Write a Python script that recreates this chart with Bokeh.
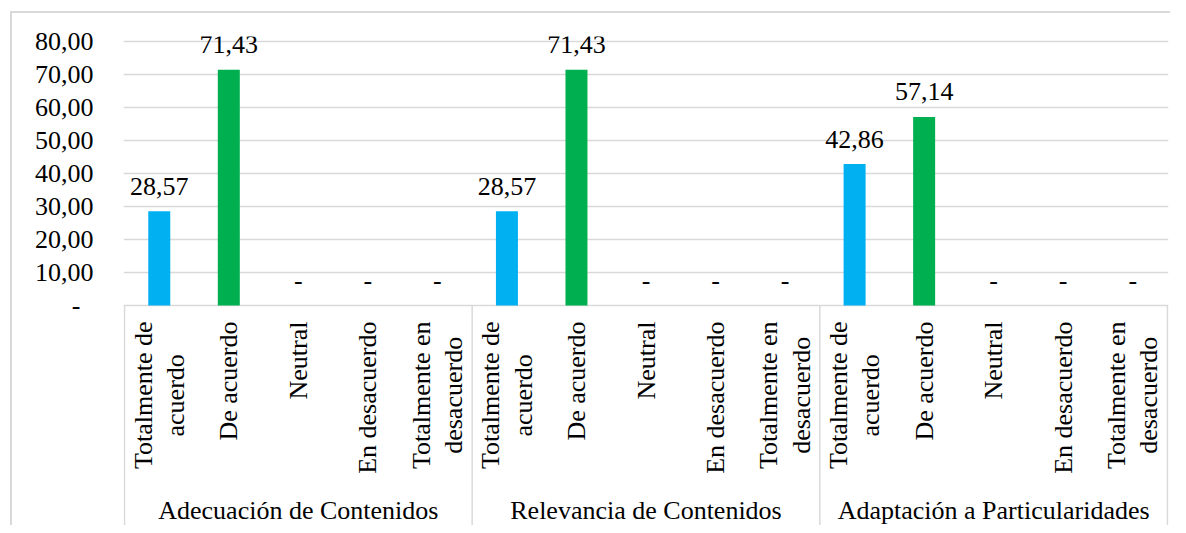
import math
from bokeh.plotting import figure
from bokeh.models import ColumnDataSource, Range1d, FixedTicker
from bokeh.core.properties import value
from bokeh.embed import file_html
from bokeh.resources import INLINE

# ---------------- data ----------------
GROUPS = ["Adecuación de Contenidos", "Relevancia de Contenidos", "Adaptación a Particularidades"]
CATEGORIES = ["Totalmente de acuerdo", "De acuerdo", "Neutral", "En desacuerdo", "Totalmente en desacuerdo"]
CATEGORY_LABELS = ["Totalmente de\nacuerdo", "De acuerdo", "Neutral", "En desacuerdo", "Totalmente en\ndesacuerdo"]
ADECUACION = [28.57, 71.43, 0.0, 0.0, 0.0]
RELEVANCIA = [28.57, 71.43, 0.0, 0.0, 0.0]
ADAPTACION = [42.86, 57.14, 0.0, 0.0, 0.0]
SERIES = [ADECUACION, RELEVANCIA, ADAPTACION]
CAT_COLORS = ["#00B0F0", "#00B050", "#A5A5A5", "#FFC000", "#4472C4"]
Y_TICKS = [0, 10, 20, 30, 40, 50, 60, 70, 80]
Y_TICK_LABELS = ["-\u00a0\u00a0", "10,00", "20,00", "30,00", "40,00", "50,00", "60,00", "70,00", "80,00"]

# ---------------- style / geometry ----------------
FONT = "Liberation Serif"
FS = "26px"
GRID = "#D9D9D9"
W, H = 1170, 525
MB_LEFT, MB_RIGHT, MB_TOP, MB_BOTTOM = 123, 2, 36, 0
FRAME_W = W - MB_LEFT - MB_RIGHT
FRAME_H = H - MB_TOP - MB_BOTTOM
PX = 264 / 80.0                 # pixels per value unit
AXIS_Y = 305                    # canvas y of value 0
AXIS_FROM_TOP = AXIS_Y - MB_TOP
Y_END = 80 + (AXIS_FROM_TOP - 80 * PX) / PX
Y_START = -(FRAME_H - AXIS_FROM_TOP) / PX
N = len(GROUPS) * len(CATEGORIES)
CAT_PX = (FRAME_W - 2) / N
X_PAD = 1 / CAT_PX

# ---------------- build columns ----------------
xs, tops, colors, labels = [], [], [], []
for g, vals in enumerate(SERIES):
    for c, v in enumerate(vals):
        xs.append(g * len(CATEGORIES) + c + 0.5)
        tops.append(v)
        colors.append(CAT_COLORS[c])
        labels.append(("%.2f" % v).replace(".", ",") if v else "-")

bars = ColumnDataSource(dict(x=xs, top=tops, color=colors, label=labels,
                             label_y=[t + 25 / PX for t in tops]))

cat_src = ColumnDataSource(dict(
    x=xs,
    y=[-16 / PX] * N,
    text=[CATEGORY_LABELS[i % len(CATEGORIES)] for i in range(N)],
))

grp_src = ColumnDataSource(dict(
    x=[g * len(CATEGORIES) + len(CATEGORIES) / 2 for g in range(len(GROUPS))],
    y=[-(510 - AXIS_Y) / PX] * len(GROUPS),
    text=GROUPS,
))

sep_x = [g * len(CATEGORIES) for g in range(len(GROUPS) + 1)]
sep_src = ColumnDataSource(dict(x0=sep_x, x1=sep_x, y0=[0] * len(sep_x),
                                y1=[Y_START] * len(sep_x)))

# ---------------- figure ----------------
p = figure(width=W, height=H, output_backend="svg", toolbar_location=None,
           x_axis_type=None,
           x_range=Range1d(-X_PAD, N + X_PAD), y_range=Range1d(Y_START, Y_END),
           min_border_left=MB_LEFT, min_border_right=MB_RIGHT,
           min_border_top=MB_TOP, min_border_bottom=MB_BOTTOM)
p.outline_line_color = None
p.background_fill_color = None
p.border_fill_color = None
p.styles = {
    "background": ("linear-gradient(#D9D9D9,#D9D9D9) 10px 11px / 100% 2px no-repeat, "
                   "linear-gradient(#D9D9D9,#D9D9D9) 10px 11px / 2px 100% no-repeat, white"),
}

p.xgrid.visible = False
p.ygrid.ticker = FixedTicker(ticks=Y_TICKS)
p.ygrid.grid_line_color = GRID
p.ygrid.grid_line_width = 1.5

ax = p.yaxis[0]
ax.ticker = FixedTicker(ticks=Y_TICKS)
ax.major_label_overrides = {t: l for t, l in zip(Y_TICKS, Y_TICK_LABELS)}
ax.axis_line_color = None
ax.major_tick_line_color = None
ax.minor_tick_line_color = None
ax.major_label_text_font = FONT
ax.major_label_text_font_size = FS
ax.major_label_text_color = "black"
ax.major_label_standoff = 24

p.vbar(x="x", top="top", bottom=0, width=22 / CAT_PX, color="color",
       line_color=None, source=bars)

p.text(x="x", y="label_y", text="label", source=bars,
       text_font=value(FONT), text_font_size=FS, text_color="black",
       text_align="center", text_baseline="middle")

p.segment(x0="x0", y0="y0", x1="x1", y1="y1", source=sep_src,
          line_color=GRID, line_width=1.5)

p.text(x="x", y="y", text="text", source=cat_src, angle=math.pi / 2,
       anchor="center_right", text_align="center", text_baseline="middle",
       text_line_height=1.11,
       text_font=value(FONT), text_font_size=FS, text_color="black")

p.text(x="x", y="y", text="text", source=grp_src,
       text_font=value(FONT), text_font_size=FS, text_color="black",
       text_align="center", text_baseline="middle")

open("out.html", "w").write(file_html(p, INLINE))
